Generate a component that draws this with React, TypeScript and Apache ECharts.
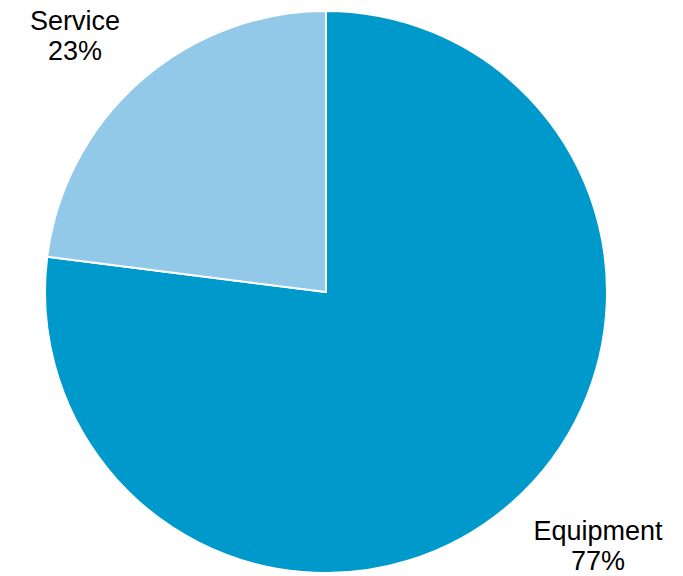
import React, { useEffect, useRef } from "react";
import * as echarts from "echarts";

const categories = ["Equipment", "Service"];
const values = [77, 23];
const colors = ["#0099CC", "#92C8E8"];
const labelPositions = [
  [598, 546],
  [75, 36],
];

export default function App() {
  const ref = useRef<HTMLDivElement>(null);
  useEffect(() => {
    if (!ref.current) return;
    const chart = echarts.init(ref.current, null, { renderer: "svg" });
    chart.setOption({
      animation: false,
      backgroundColor: "#ffffff",
      series: [
        {
          type: "pie",
          center: [326, 292],
          radius: [0, 281],
          startAngle: 90,
          clockwise: true,
          data: categories.map((c, i) => ({
            name: c,
            value: values[i],
            itemStyle: { color: colors[i] },
          })),
          itemStyle: { borderColor: "#ffffff", borderWidth: 2 },
          label: {
            show: true,
            formatter: (p: any) => `${p.name}\n${p.value}%`,
            fontFamily: "Liberation Sans, Arial, sans-serif",
            fontSize: 27,
            lineHeight: 30,
            color: "#000000",
            align: "center",
            overflow: "none",
            width: 300,
          },
          labelLine: { show: false },
          labelLayout: (params: any) => {
            const pos = labelPositions[params.dataIndex];
            return { x: pos[0], y: pos[1], align: "center", verticalAlign: "middle" };
          },
        },
      ],
    });
    return () => chart.dispose();
  }, []);
  return (
    <div
      ref={ref}
      style={{ position: "fixed", left: 0, top: 0, width: 683, height: 576 }}
    />
  );
}
